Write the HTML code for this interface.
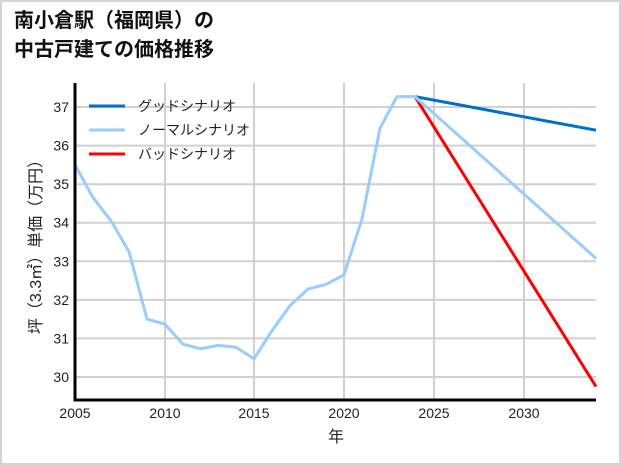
<!DOCTYPE html>
<html><head><meta charset="utf-8"><style>
body{margin:0;background:#fff}
svg{display:block}
text{font-family:"Liberation Sans","Noto Sans CJK JP",sans-serif}
</style></head><body>
<svg width="621" height="465" viewBox="0 0 621 465" xmlns="http://www.w3.org/2000/svg">
<rect x="1" y="1" width="619" height="463" fill="#fff" stroke="#d4d4d4" stroke-width="2"/>
<text x="14" y="27" font-size="20" font-weight="bold" fill="#111">南小倉駅（福岡県）の</text>
<text x="14" y="56" font-size="20" font-weight="bold" fill="#111">中古戸建ての価格推移</text>
<g stroke="#d0d0d0" stroke-width="2">
<line x1="75" x2="596" y1="377" y2="377"/><line x1="75" x2="596" y1="338.4" y2="338.4"/>
<line x1="75" x2="596" y1="299.9" y2="299.9"/><line x1="75" x2="596" y1="261.3" y2="261.3"/>
<line x1="75" x2="596" y1="222.7" y2="222.7"/><line x1="75" x2="596" y1="184.2" y2="184.2"/>
<line x1="75" x2="596" y1="145.6" y2="145.6"/><line x1="75" x2="596" y1="107" y2="107"/>
<line x1="165" x2="165" y1="83" y2="400"/><line x1="254" x2="254" y1="83" y2="400"/>
<line x1="344" x2="344" y1="83" y2="400"/><line x1="434" x2="434" y1="83" y2="400"/>
<line x1="524" x2="524" y1="83" y2="400"/>
</g>
<polyline fill="none" stroke="#0070cc" stroke-width="3" points="415,96.6 596,130.2"/>
<polyline fill="none" stroke="#ff0000" stroke-width="3" points="415,96.6 596,386.6"/>
<polyline fill="none" stroke="#99ccff" stroke-width="3" stroke-linejoin="round" points="75,164.9 93,197.6 111,220.8 129,251.6 147,319.1 165,324.2 183,344.2 201,348.8 218,345.4 236,347.3 254,358.9 272,330.7 290,305.6 308,289.1 326,284.4 344,274.8 362,218.9 380,128.2 397,96.6 415,96.6 596,258.4"/>
<polyline fill="none" stroke="#000" stroke-width="3" points="75,83 75,400 596,400"/>
<g font-size="14" fill="#222" text-anchor="end">
<text x="69" y="382">30</text><text x="69" y="343.4">31</text><text x="69" y="304.9">32</text>
<text x="69" y="266.3">33</text><text x="69" y="227.7">34</text><text x="69" y="189.2">35</text>
<text x="69" y="150.6">36</text><text x="69" y="112">37</text>
</g>
<g font-size="14" fill="#222" text-anchor="middle">
<text x="75" y="418">2005</text><text x="165" y="418">2010</text><text x="254" y="418">2015</text>
<text x="344" y="418">2020</text><text x="434" y="418">2025</text><text x="524" y="418">2030</text>
<text x="336" y="442" font-size="16">年</text>
</g>
<text transform="translate(41,243) rotate(-90)" font-size="16" fill="#222" text-anchor="middle">坪（3.3㎡）単価（万円）</text>
<g stroke-width="3">
<line x1="89" x2="125" y1="106" y2="106" stroke="#0070cc"/>
<line x1="89" x2="125" y1="130" y2="130" stroke="#99ccff"/>
<line x1="89" x2="125" y1="154" y2="154" stroke="#ff0000"/>
</g>
<g font-size="14" fill="#222">
<text x="138" y="111">グッドシナリオ</text>
<text x="138" y="135">ノーマルシナリオ</text>
<text x="138" y="159">バッドシナリオ</text>
</g>
</svg>
</body></html>
